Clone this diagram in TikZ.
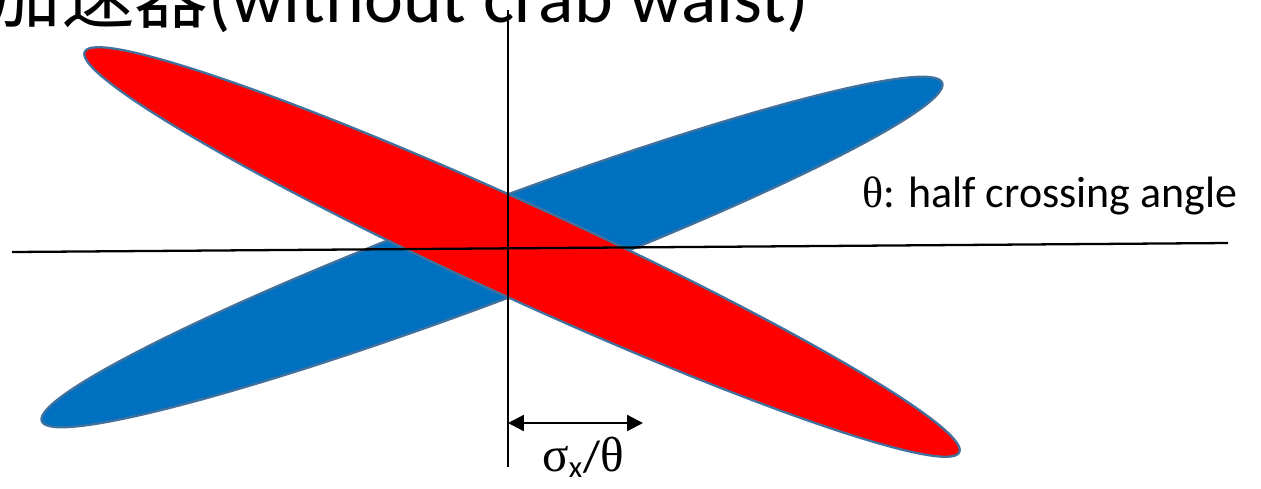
\documentclass[tikz,border=0pt]{standalone}
\usepackage{fontspec}
\setmainfont{Carlito}
\newfontfamily\cjk{Noto Sans CJK SC}
\newfontfamily\symb{Liberation Serif}
\usetikzlibrary{arrows.meta}
\definecolor{beamblue}{HTML}{0070C0}
\definecolor{beamred}{HTML}{FF0000}
\definecolor{beamedge}{HTML}{41719C}
\begin{document}
\begin{tikzpicture}[x=0.02cm,y=-0.02cm,
  beam/.style={draw=beamedge,line width=1.3pt},
  axis/.style={line width=1.3pt},
  lbl/.style={inner sep=0pt,font=\fontsize{25}{30}\selectfont}]
\useasboundingbox (0,0) rectangle (1261,488);
% title, cut off by the top edge
\begin{scope}
\clip (0,0) rectangle (1261,488);
\node[inner sep=0pt,anchor=base west,font=\fontsize{42}{50}\selectfont] (title) at (-13,22) {{\cjk 加速器}(without crab waist)};
\end{scope}
% the two bunches
\draw[beam,fill=beamblue,rotate around={20.6:(492,252)}] (492,252) ellipse [x radius=481,y radius=48.5];
\draw[beam,fill=beamred,rotate around={-24.6:(522,252)}] (522,252) ellipse [x radius=481,y radius=47];
% axes
\coordinate (zl) at (12,252);
\coordinate (zr) at (1228,243);
\coordinate (xt) at (508,10);
\coordinate (xb) at (508,467);
\draw[axis] (zl) -- (zr);
\draw[axis] (xt) -- (xb);
\node[lbl,anchor=base west] (angle) at (862,207) {{\symb θ}: half crossing angle};
% offset sigma_x/theta
\coordinate (d0) at (508,423);
\coordinate (d1) at (643,423);
\draw[axis,{Triangle[length=9pt,width=9pt]}-{Triangle[length=9pt,width=9pt]}] (d0) -- (d1);
\node[lbl,anchor=base west] (offset) at (542,471) {{\symb\fontsize{28}{30}\selectfont σ}\textsubscript{x}/{\symb\fontsize{28}{30}\selectfont θ}};
\end{tikzpicture}
\end{document}
